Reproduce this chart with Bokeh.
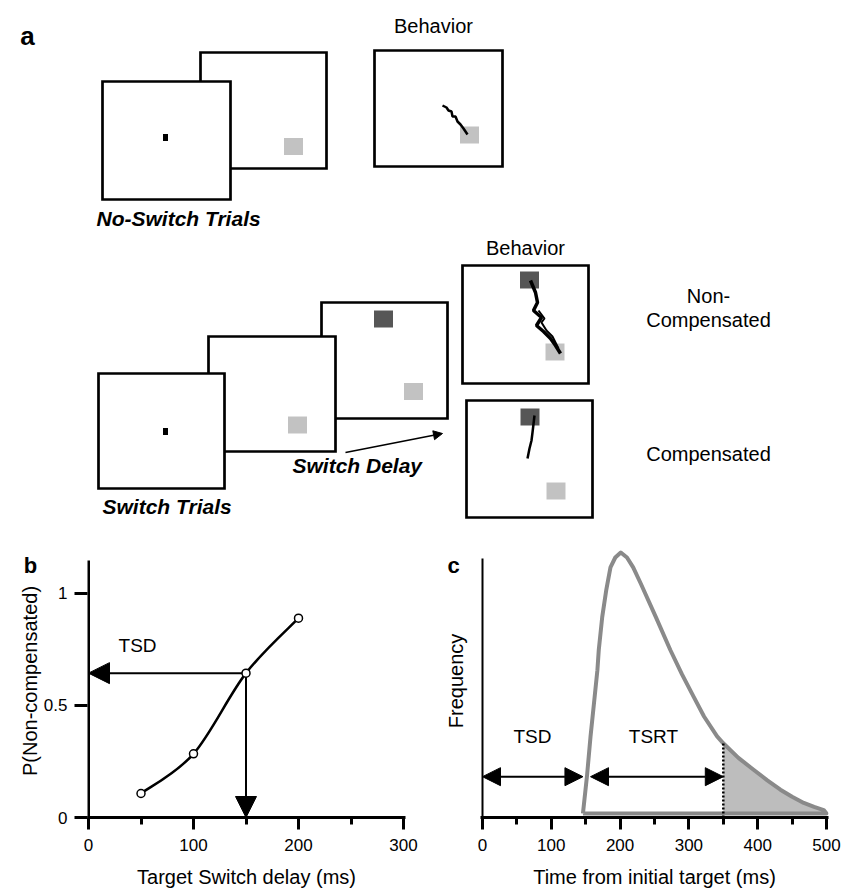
from bokeh.plotting import figure
from bokeh.layouts import column, row
from bokeh.models import Range1d, FixedTicker, Arrow, NormalHead, Label
from bokeh.core.properties import value
from bokeh.embed import file_html
from bokeh.resources import INLINE

FONT = "Liberation Sans"

# ---------------- panel a: schematic (screen frames, targets, traces) ----------------
frame_left = [200, 102, 374, 321, 208, 98, 462, 466]
frame_right = [326, 230, 502, 447, 335, 224, 588, 592]
frame_top = [52, 81, 50, 302, 336, 373, 265, 400]
frame_bottom = [168, 199, 166, 418, 451, 488, 383, 517]

light_target_x = [293, 469, 297, 413, 554.5, 555.5]
light_target_y = [146, 134.5, 424.5, 391, 351.5, 490.5]
dark_target_x = [383, 529, 529.5]
dark_target_y = [318.5, 279.5, 416.5]
fixation_x = [165, 165]
fixation_y = [137, 431]

trace_xs = [
    [442, 446, 448, 451, 452, 455, 457, 460, 463, 467],
    [530, 535, 537, 533, 541, 536, 543, 550, 555, 560],
    [534, 532, 531, 529, 527],
    [538, 544, 541, 546, 552, 558],
]
trace_ys = [
    [105, 107, 110, 111, 116, 116, 121, 124, 128, 134],
    [280, 292, 302, 310, 317, 325, 331, 338, 345, 353],
    [415, 432, 440, 448, 458],
    [310, 318, 322, 330, 336, 348],
]
trace_widths = [2.5, 3.5, 2.5, 2]

a_texts = ["Behavior", "Behavior", "Non-", "Compensated", "Compensated"]
a_text_x = [433, 525, 708, 708, 708]
a_text_y = [25, 247, 295, 319, 453]
a_bold_texts = ["No-Switch Trials", "Switch Trials", "Switch Delay"]
a_bold_x = [96, 102, 292]
a_bold_y = [218, 506, 465]
delay_arrow = (345, 452, 442, 433)

# ---------------- panel b data ----------------
tsd_ms = [50, 100, 150, 200]
p_noncomp = [0.107, 0.284, 0.644, 0.889]
b_xticks = [0, 100, 200, 300]
b_xminor = [50, 150, 250]
b_yticks = [0, 0.5, 1]
chosen = 2

# ---------------- panel c data ----------------
rt_time = [146, 152, 157, 163, 167, 169, 174, 180, 186, 193, 201, 210, 219, 230, 252,
           273, 290, 307, 322, 341, 350, 372, 394, 414, 433, 450, 467, 482, 496, 500]
rt_freq = [0.015, 0.16, 0.305, 0.455, 0.556, 0.632, 0.756, 0.86, 0.944, 0.981, 1.0, 0.981,
           0.944, 0.883, 0.756, 0.632, 0.54, 0.455, 0.381, 0.306, 0.28, 0.225, 0.18, 0.14,
           0.105, 0.078, 0.055, 0.04, 0.028, 0.015]
c_xticks = [0, 100, 200, 300, 400, 500]
c_xminor = [50, 150, 250, 350, 450]
tsd_c = 146
tsrt_start = 157
tsrt_end = 350
arrow_level = 0.154

# ======================= figure a =======================
A_W, A_H = 843, 544
pa = figure(width=A_W, height=A_H, x_range=Range1d(0, A_W), y_range=Range1d(A_H, 0),
            x_axis_type=None, y_axis_type=None, output_backend="svg", toolbar_location=None,
            title=None, min_border=0, min_border_left=0, min_border_right=0,
            min_border_top=0, min_border_bottom=0)
pa.grid.visible = False
pa.outline_line_color = None

pa.quad(left=frame_left, right=frame_right, top=frame_top, bottom=frame_bottom,
        fill_color="white", line_color="black", line_width=2.7, line_join="miter")
pa.rect(x=light_target_x, y=light_target_y, width=19, height=17, fill_color="#c2c2c2", line_color=None)
pa.rect(x=dark_target_x, y=dark_target_y, width=19, height=17, fill_color="#565656", line_color=None)
pa.rect(x=fixation_x, y=fixation_y, width=5, height=7, fill_color="black", line_color=None)
pa.multi_line(xs=trace_xs, ys=trace_ys, line_color="black", line_width=trace_widths)

pa.text(x=a_text_x, y=a_text_y, text=a_texts, text_font=value(FONT), text_font_size="20px",
        text_align="center", text_baseline="middle", text_color="black")
pa.text(x=a_bold_x, y=a_bold_y, text=a_bold_texts, text_font=value(FONT), text_font_size="21px",
        text_font_style="bold italic", text_align="left", text_baseline="middle", text_color="black")
pa.text(x=[27], y=[35], text=["a"], text_font=value(FONT), text_font_size="26px",
        text_font_style="bold", text_align="center", text_baseline="middle", text_color="black")
pa.add_layout(Arrow(end=NormalHead(size=9, fill_color="black", line_color="black"),
                    x_start=delay_arrow[0], y_start=delay_arrow[1],
                    x_end=delay_arrow[2], y_end=delay_arrow[3], line_width=1.6))


def style_axes(p):
    p.grid.visible = False
    p.outline_line_color = None
    if p.title is not None:
        p.title.visible = False
    for ax in (p.xaxis[0], p.yaxis[0]):
        ax.axis_line_width = 3
        ax.major_tick_line_width = 3
        ax.minor_tick_line_width = 3
        ax.major_tick_in = 0
        ax.minor_tick_in = 0
        ax.major_label_text_font = FONT
        ax.major_label_text_font_size = "17px"
        ax.major_label_text_color = "black"
        ax.axis_label_text_font = FONT
        ax.axis_label_text_font_size = "20px"
        ax.axis_label_text_font_style = "normal"
        ax.axis_label_text_color = "black"


# ======================= figure b =======================
B_W, B_H = 420, 346
B_PX, B_PY = 1.05, 225.0
b_left, b_right, b_top, b_bottom = 87, 15, 0, 72
bx_start = -1 / B_PX
pb = figure(width=B_W, height=B_H,
            x_range=Range1d(bx_start, bx_start + (B_W - b_left - b_right) / B_PX),
            y_range=Range1d(0, (B_H - b_top - b_bottom) / B_PY),
            output_backend="svg", toolbar_location=None, title=None,
            min_border_left=b_left, min_border_right=b_right,
            min_border_top=b_top, min_border_bottom=b_bottom)
style_axes(pb)
pb.xaxis.ticker = FixedTicker(ticks=b_xticks, minor_ticks=b_xminor)
pb.xaxis.major_tick_out = 12
pb.xaxis.minor_tick_out = 7
pb.xaxis.major_label_standoff = 9
pb.xaxis.axis_label_standoff = 12
pb.xaxis.axis_label = "Target Switch delay (ms)"
pb.yaxis.ticker = FixedTicker(ticks=b_yticks, minor_ticks=[])
pb.yaxis.major_label_overrides = {0: "0", 0.5: "0.5", 1: "1"}
pb.yaxis.major_tick_out = 13
pb.yaxis.major_label_standoff = 7
pb.yaxis.axis_label_standoff = 0
pb.yaxis.axis_line_color = None
pb.yaxis.axis_label = "P(Non-compensated)"
# y-axis line that stops short of the frame top
pb.segment(x0=[0], y0=[0], x1=[0], y1=[258 / B_PY], line_color="black", line_width=3)

# smooth curve through the points (Catmull-Rom as cubic Bezier)
bx0, by0, bx1, by1, bcx0, bcy0, bcx1, bcy1 = [], [], [], [], [], [], [], []
n = len(tsd_ms)
for i in range(n - 1):
    i0 = max(i - 1, 0)
    i3 = min(i + 2, n - 1)
    bx0.append(tsd_ms[i]); by0.append(p_noncomp[i])
    bx1.append(tsd_ms[i + 1]); by1.append(p_noncomp[i + 1])
    bcx0.append(tsd_ms[i] + (tsd_ms[i + 1] - tsd_ms[i0]) / 6)
    bcy0.append(p_noncomp[i] + (p_noncomp[i + 1] - p_noncomp[i0]) / 6)
    bcx1.append(tsd_ms[i + 1] - (tsd_ms[i3] - tsd_ms[i]) / 6)
    bcy1.append(p_noncomp[i + 1] - (p_noncomp[i3] - p_noncomp[i]) / 6)
pb.bezier(x0=bx0, y0=by0, x1=bx1, y1=by1, cx0=bcx0, cy0=bcy0, cx1=bcx1, cy1=bcy1,
          line_color="black", line_width=2.5)

for xs, ys, xe, ye in [(tsd_ms[chosen], p_noncomp[chosen], 0, p_noncomp[chosen]),
                       (tsd_ms[chosen], p_noncomp[chosen], tsd_ms[chosen], 0)]:
    arr = Arrow(end=NormalHead(size=21, fill_color="black", line_color="black"),
                x_start=xs, y_start=ys, x_end=xe, y_end=ye, line_width=2, level="underlay")
    pb.add_layout(arr)

pb.scatter(tsd_ms, p_noncomp, marker="circle", size=8, fill_color="white",
           line_color="black", line_width=1.5)
pb.add_layout(Label(x=46.7, y=0.769, text="TSD", text_font=FONT, text_font_size="19px",
                    text_color="black", text_align="center", text_baseline="middle"))
# panel letter, placed in the left side panel so it is not clipped to the frame
pb.add_layout(Label(x=bx_start + (30 - b_left) / B_PX, y=(818 - 565) / B_PY, text="b",
                    text_font=FONT, text_font_size="22px",
                    text_color="black", text_font_style="bold", text_align="center",
                    text_baseline="middle"), "left")

# ======================= figure c =======================
C_W, C_H = 423, 346
C_PX, C_PY = 0.688, 266.0
c_left, c_right, c_top, c_bottom = 60, 15, 0, 72
cx_start = -2 / C_PX
pc = figure(width=C_W, height=C_H,
            x_range=Range1d(cx_start, cx_start + (C_W - c_left - c_right) / C_PX),
            y_range=Range1d(0, (C_H - c_top - c_bottom) / C_PY),
            output_backend="svg", toolbar_location=None, title=None,
            min_border_left=c_left, min_border_right=c_right,
            min_border_top=c_top, min_border_bottom=c_bottom)
style_axes(pc)
pc.xaxis.ticker = FixedTicker(ticks=c_xticks, minor_ticks=c_xminor)
pc.xaxis.major_tick_out = 12
pc.xaxis.minor_tick_out = 7
pc.xaxis.major_label_standoff = 9
pc.xaxis.axis_label_standoff = 12
pc.xaxis.axis_label = "Time from initial target (ms)"
pc.yaxis.ticker = FixedTicker(ticks=[], minor_ticks=[])
pc.yaxis.major_tick_out = 0
pc.yaxis.axis_line_color = None
pc.yaxis.axis_label_standoff = 14
pc.yaxis.axis_label = "Frequency"

# manual y-axis line (shorter than the frame)
pc.segment(x0=[0], y0=[0], x1=[0], y1=[260 / C_PY], line_color="black", line_width=2)

base = rt_freq[0]
tail_x = [t for t in rt_time if t >= tsrt_end]
tail_y = [f for t, f in zip(rt_time, rt_freq) if t >= tsrt_end]
pc.varea(x=tail_x, y1=[base] * len(tail_x), y2=tail_y, fill_color="#bdbdbd")
pc.line(rt_time + [rt_time[-1], rt_time[0]], rt_freq + [base, base],
        line_color="#8a8a8a", line_width=4, line_join="round")
pc.segment(x0=[tsrt_end], y0=[0], x1=[tsrt_end], y1=[tail_y[0]], line_color="black",
           line_width=2.5, line_dash="2 2")

for xs, xe in [(0, tsd_c), (tsrt_start, tsrt_end)]:
    pc.add_layout(Arrow(start=NormalHead(size=18, fill_color="black", line_color="black"),
                        end=NormalHead(size=18, fill_color="black", line_color="black"),
                        x_start=xs, y_start=arrow_level, x_end=xe, y_end=arrow_level,
                        line_width=2))
pc.add_layout(Label(x=72.7, y=0.305, text="TSD", text_font=FONT, text_font_size="19px",
                    text_color="black", text_align="center", text_baseline="middle"))
pc.add_layout(Label(x=248.5, y=0.305, text="TSRT", text_font=FONT, text_font_size="19px",
                    text_color="black", text_align="center", text_baseline="middle"))
pc.add_layout(Label(x=cx_start + (453 - c_left - 420) / C_PX, y=(818 - 565) / C_PY, text="c",
                    text_font=FONT, text_font_size="22px",
                    text_color="black", text_font_style="bold", text_align="center",
                    text_baseline="middle"), "left")

layout = column(pa, row(pb, pc))
open("out.html", "w").write(file_html(layout, INLINE))
